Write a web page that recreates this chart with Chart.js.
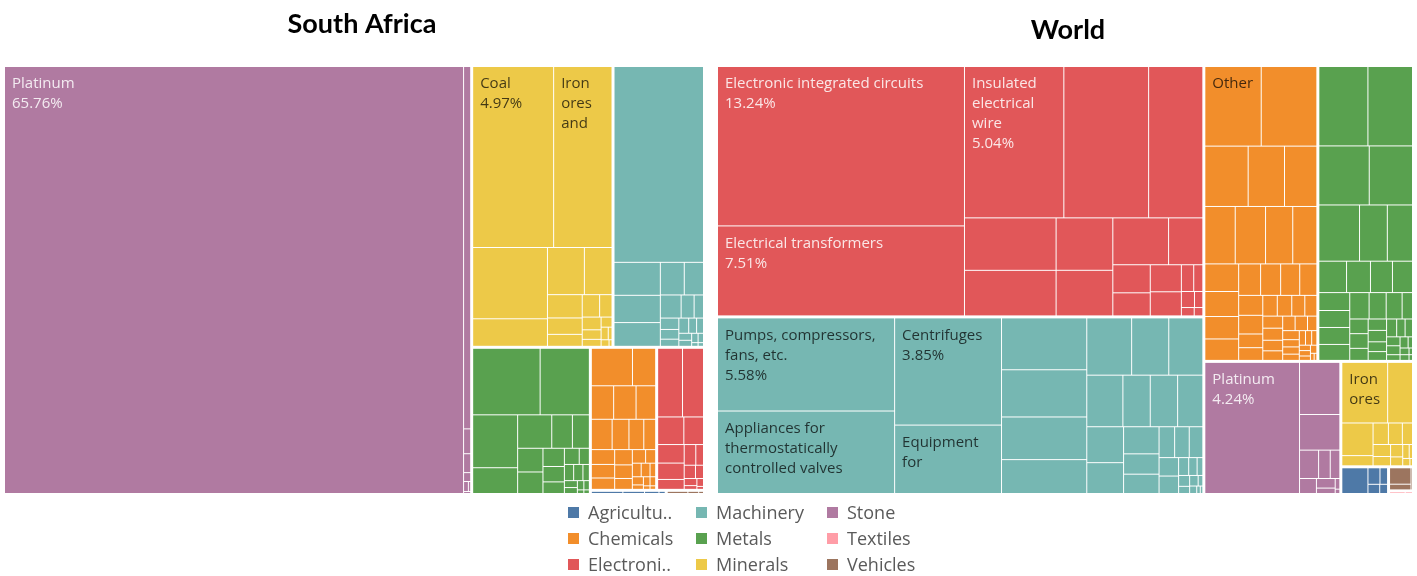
<!DOCTYPE html>
<html>
<head>
<meta charset="utf-8">
<script src="https://cdn.jsdelivr.net/npm/chart.js@4.4.1/dist/chart.umd.min.js"></script>
<style>
  body { margin: 0; background: #fff; }
  #wrap { position: relative; width: 1417px; height: 576px; overflow: hidden; }
  canvas { position: absolute; top: 0; }
  #legend {
    position: absolute; left: 568px; top: 499px;
    display: grid; grid-auto-flow: column;
    grid-template-rows: repeat(3, 26px);
    grid-template-columns: 128px 131px 120px;
    font: 18px "Open Sans", sans-serif; color: #5a5a5a;
  }
  #legend div { display: flex; align-items: center; white-space: nowrap; }
  #legend span { display: inline-block; width: 11px; height: 11px; margin-right: 9px; }
</style>
</head>
<body>
<div id="wrap">
  <canvas id="saChart" width="728" height="500" style="left:0"></canvas>
  <canvas id="worldChart" width="712" height="500" style="left:712px"></canvas>
  <div id="legend"></div>
</div>
<script>
// sections, in legend order
var groups = ['Agriculture', 'Chemicals', 'Electronics', 'Machinery', 'Metals', 'Minerals', 'Stone', 'Textiles', 'Vehicles'];
var legendLabels = ['Agricultu..', 'Chemicals', 'Electroni..', 'Machinery', 'Metals', 'Minerals', 'Stone', 'Textiles', 'Vehicles'];
var groupColors = ['#4e79a7', '#f28e2b', '#e15759', '#76b7b2', '#59a14f', '#edc948', '#b07aa1', '#ff9da7', '#9c755f'];

// South Africa, share of exports (%) per product
var saAgriculture = [0.045, 0.03, 0.02, 0.01];
var saChemicals = [0.54, 0.31, 0.26, 0.25, 0.23, 0.22, 0.17, 0.15, 0.13, 0.12, 0.11, 0.10, 0.09, 0.08, 0.07, 0.06, 0.05, 0.04, 0.04, 0.03, 0.03, 0.02, 0.02, 0.02, 0.01, 0.01];
var saElectronics = [0.60, 0.51, 0.25, 0.19, 0.17, 0.15, 0.10, 0.08, 0.06, 0.05, 0.04, 0.03, 0.02, 0.02, 0.01];
var saMachinery = [6.00, 0.52, 0.43, 0.39, 0.26, 0.22, 0.16, 0.10, 0.08, 0.07, 0.06, 0.05, 0.05, 0.04, 0.04, 0.03, 0.03, 0.02, 0.02, 0.01, 0.01];
var saMetals = [1.54, 1.13, 0.81, 0.41, 0.38, 0.23, 0.20, 0.20, 0.19, 0.13, 0.11, 0.09, 0.08, 0.06, 0.05, 0.05, 0.04, 0.03, 0.03, 0.02, 0.02, 0.01, 0.01];
var saMinerals = [4.97, 3.60, 1.80, 0.72, 0.58, 0.45, 0.27, 0.19, 0.15, 0.13, 0.10, 0.08, 0.06, 0.05, 0.04, 0.03, 0.02, 0.02, 0.01];
var saStone = [65.76, 0.98, 0.067, 0.051, 0.024, 0.016, 0.011, 0.008];
var saTextiles = [];
var saVehicles = [0.03, 0.015, 0.008];
var saMineralsNames = ['Coal', 'Iron ores and concentrates'];
var saStoneNames = ['Platinum'];

// World
var wdAgriculture = [0.25, 0.07, 0.05, 0.04, 0.03];
var wdChemicals = [1.54, 1.52, 0.89, 0.73, 0.67, 0.60, 0.58, 0.52, 0.48, 0.32, 0.29, 0.26, 0.26, 0.23, 0.21, 0.20, 0.19, 0.16, 0.15, 0.11, 0.11, 0.10, 0.10, 0.09, 0.09, 0.08, 0.08, 0.07, 0.07, 0.06, 0.06, 0.05, 0.05, 0.04, 0.04, 0.04, 0.03, 0.03, 0.03, 0.02, 0.02, 0.02, 0.02, 0.01, 0.01];
var wdElectronics = [13.24, 7.51, 5.04, 4.30, 2.80, 1.60, 1.42, 0.99, 0.88, 0.87, 0.55, 0.35, 0.30, 0.28, 0.26, 0.11, 0.09, 0.07, 0.05, 0.04, 0.03];
var wdMachinery = [5.58, 4.95, 3.85, 2.47, 1.50, 1.34, 1.21, 0.99, 0.87, 0.72, 0.68, 0.62, 0.47, 0.47, 0.45, 0.44, 0.39, 0.32, 0.24, 0.24, 0.16, 0.15, 0.15, 0.12, 0.12, 0.06, 0.05, 0.04, 0.04, 0.03, 0.03, 0.02, 0.02, 0.01, 0.01];
var wdMetals = [1.34, 1.22, 1.01, 0.87, 0.78, 0.52, 0.49, 0.30, 0.25, 0.23, 0.22, 0.19, 0.18, 0.18, 0.18, 0.17, 0.15, 0.14, 0.10, 0.09, 0.09, 0.08, 0.07, 0.07, 0.06, 0.06, 0.06, 0.05, 0.05, 0.04, 0.04, 0.03, 0.03, 0.02, 0.02, 0.02, 0.01, 0.01];
var wdMinerals = [0.96, 0.53, 0.35, 0.12, 0.11, 0.10, 0.08, 0.07, 0.06, 0.05, 0.04, 0.03, 0.02, 0.02, 0.01];
var wdStone = [4.24, 0.73, 0.49, 0.18, 0.11, 0.10, 0.09, 0.06, 0.04, 0.02, 0.01];
var wdTextiles = [0.02, 0.01];
var wdVehicles = [0.13, 0.05, 0.02];
var wdChemicalsNames = ['Other heterocyclic compounds'];
var wdElectronicsNames = ['Electronic integrated circuits', 'Electrical transformers', 'Insulated electrical wire'];
var wdMachineryNames = ['Pumps, compressors, fans, etc.', 'Appliances for thermostatically controlled valves', 'Centrifuges', 'Equipment for temperature treatment'];
var wdMineralsNames = ['Iron ores and concentrates'];
var wdStoneNames = ['Platinum'];

var lightText = ['Electronics', 'Stone', 'Agriculture', 'Vehicles'];
var PHI = (1 + Math.sqrt(5)) / 2;

// squarified tiling (golden ratio target), nodes sorted by value
function squarify(nodes, x0, y0, x1, y1, sx, sy) {
  var value = 0;
  nodes.forEach(function(n){ value += n.value; });
  var i0 = 0, i1 = 0, n = nodes.length;
  while (i0 < n) {
    var dx = (x1 - x0) * sx, dy = (y1 - y0) * sy;
    var sum = nodes[i1++].value, minV = sum, maxV = sum;
    var alpha = Math.max(dy / dx, dx / dy) / (value * PHI);
    var beta = sum * sum * alpha;
    var minRatio = Math.max(maxV / beta, beta / minV);
    for (; i1 < n; ++i1) {
      var v = nodes[i1].value;
      sum += v;
      if (v < minV) minV = v;
      if (v > maxV) maxV = v;
      beta = sum * sum * alpha;
      var r = Math.max(maxV / beta, beta / minV);
      if (r > minRatio) { sum -= v; break; }
      minRatio = r;
    }
    var row = nodes.slice(i0, i1);
    if (dx < dy) {
      var yEnd = i1 >= n ? y1 : y0 + (y1 - y0) * sum / value;
      var xx = x0;
      row.forEach(function(nd){
        var w = (x1 - x0) * nd.value / sum;
        nd.x0 = xx; nd.x1 = xx + w; nd.y0 = y0; nd.y1 = yEnd; xx += w;
      });
      y0 = yEnd;
    } else {
      var xEnd = i1 >= n ? x1 : x0 + (x1 - x0) * sum / value;
      var yy = y0;
      row.forEach(function(nd){
        var h = (y1 - y0) * nd.value / sum;
        nd.x0 = x0; nd.x1 = xEnd; nd.y0 = yy; nd.y1 = yy + h; yy += h;
      });
      x0 = xEnd;
    }
    value -= sum;
    i0 = i1;
  }
}

function drawLabel(ctx, name, value, x, y, w, h, color) {
  ctx.font = '15px "Open Sans"';
  var maxW = w - 12;
  var words = name.split(' ');
  var lines = [], line = '', complete = true;
  for (var i = 0; i < words.length; i++) {
    if (ctx.measureText(words[i]).width > maxW) { complete = false; break; }
    var test = line ? line + ' ' + words[i] : words[i];
    if (ctx.measureText(test).width <= maxW) line = test;
    else { lines.push(line); line = words[i]; }
  }
  if (line) lines.push(line);
  if (complete) lines.push(value.toFixed(2) + '%');
  ctx.fillStyle = color;
  ctx.textBaseline = 'middle';
  ctx.textAlign = 'left';
  for (var j = 0; j < lines.length; j++) {
    var cy = y + 17 + 20 * j;
    if (cy + 14 > y + h) break;
    ctx.fillText(lines[j], x + 7, cy);
  }
}

var treemapPlugin = {
  id: 'treemap',
  afterDatasetsDraw: function(chart, args, opts) {
    var ctx = chart.ctx, area = chart.chartArea;
    var xs = chart.scales.x, ys = chart.scales.y;
    var sx = area.width / 100, sy = area.height / 100;
    var nodes = [];
    groups.forEach(function(g, i){
      var vals = opts.values[i];
      if (!vals.length) return;
      var names = opts.names[i] || [];
      var total = 0;
      var children = vals.map(function(v, k){ total += v; return {value: v, name: names[k]}; });
      children.sort(function(a, b){ return b.value - a.value; });
      nodes.push({group: g, color: groupColors[i], value: total, children: children});
    });
    nodes.sort(function(a, b){ return b.value - a.value; });
    squarify(nodes, 0, 0, 100, 100, sx, sy);

    ctx.save();
    nodes.forEach(function(g){
      squarify(g.children, g.x0, g.y0, g.x1, g.y1, sx, sy);
      var gx0 = xs.getPixelForValue(g.x0) + 1.5, gx1 = xs.getPixelForValue(g.x1) - 1.5;
      var gy0 = ys.getPixelForValue(g.y0) + 1.5, gy1 = ys.getPixelForValue(g.y1) - 1.5;
      g.children.forEach(function(c){
        var cx0 = Math.max(xs.getPixelForValue(c.x0) + 0.5, gx0);
        var cx1 = Math.min(xs.getPixelForValue(c.x1) - 0.5, gx1);
        var cy0 = Math.max(ys.getPixelForValue(c.y0) + 0.5, gy0);
        var cy1 = Math.min(ys.getPixelForValue(c.y1) - 0.5, gy1);
        if (cx1 <= cx0 || cy1 <= cy0) return;
        ctx.fillStyle = g.color;
        ctx.fillRect(cx0, cy0, cx1 - cx0, cy1 - cy0);
        if (c.name) {
          var tc = lightText.indexOf(g.group) >= 0 ? 'rgba(255,255,255,0.85)' : 'rgba(0,0,0,0.72)';
          drawLabel(ctx, c.name, c.value, cx0, cy0, cx1 - cx0, cy1 - cy0, tc);
        }
      });
    });
    ctx.restore();
  }
};

// the right-hand y axis is kept blank; its width only nudges the title off the plot centre
function makeChart(id, title, values, names, pad, titlePad, axisWidth) {
  return new Chart(document.getElementById(id), {
    type: 'scatter',
    data: { datasets: [] },
    options: {
      responsive: false,
      animation: false,
      layout: { padding: pad },
      scales: {
        x: { type: 'linear', min: 0, max: 100, display: false },
        y: {
          type: 'linear', min: 0, max: 100, reverse: true, position: 'right',
          ticks: { display: false }, grid: { display: false }, border: { display: false },
          afterFit: function(scale) { scale.width = axisWidth; }
        }
      },
      plugins: {
        legend: { display: false },
        tooltip: { enabled: false },
        title: {
          display: true, text: title, color: '#000',
          font: { family: 'Lato', size: 27, weight: 'bold', lineHeight: 1.2 },
          padding: titlePad
        },
        treemap: { values: values, names: names }
      }
    },
    plugins: [treemapPlugin]
  });
}

makeChart('saChart', 'South Africa',
  [saAgriculture, saChemicals, saElectronics, saMachinery, saMetals, saMinerals, saStone, saTextiles, saVehicles],
  [[], [], [], [], [], saMineralsNames, saStoneNames, [], []],
  { left: 3.5, right: 7.5, top: 0, bottom: 5.5 }, { top: 7.8, bottom: 25.3 }, 16);

makeChart('worldChart', 'World',
  [wdAgriculture, wdChemicals, wdElectronics, wdMachinery, wdMetals, wdMinerals, wdStone, wdTextiles, wdVehicles],
  [[], wdChemicalsNames, wdElectronicsNames, wdMachineryNames, [], wdMineralsNames, wdStoneNames, [], []],
  { left: 4.5, right: 4.5, top: 0, bottom: 5.5 }, { top: 13.8, bottom: 19.3 }, 6);

var legend = document.getElementById('legend');
legendLabels.forEach(function(label, i){
  var item = document.createElement('div');
  var box = document.createElement('span');
  box.style.background = groupColors[i];
  item.appendChild(box);
  item.appendChild(document.createTextNode(label));
  legend.appendChild(item);
});
</script>
</body>
</html>
